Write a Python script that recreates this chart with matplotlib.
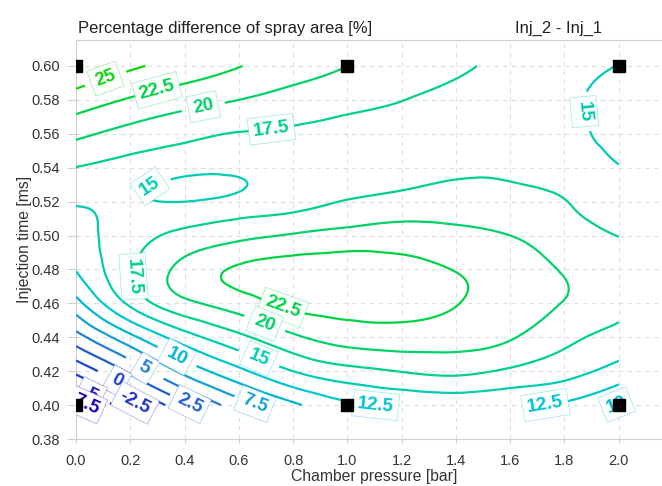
import numpy as np
import matplotlib
matplotlib.use("Agg")
import matplotlib.pyplot as plt
import matplotlib.tri as mtri
from matplotlib.colors import to_rgba

# grid: chamber pressure [bar] x injection time [ms]
pressure = [0.0, 0.2, 0.4, 0.6, 0.8, 1.0, 1.2, 1.4, 1.6, 1.8, 2.0]
inj_time = [0.40, 0.42, 0.44, 0.46, 0.48, 0.50, 0.515, 0.527, 0.54, 0.56, 0.58, 0.60]

# percentage difference of spray area (Inj_2 - Inj_1), one row per injection time
area_diff = [
    [-8.5, -3.4, 1.8, 6.3, 9.5, 12.0, 12.7, 13.0, 12.8, 12.1, 9.8],
    [-1.9, 3.06, 8.2, 11.9, 15.0, 16.7, 17.6, 18.06, 17.1, 15.9, 14.0],
    [4.0, 9.3, 13.9, 16.9, 19.55, 21.1, 21.4, 21.05, 20.2, 18.2, 16.7],
    [9.1, 15.5, 19.4, 21.3, 23.1, 23.4, 23.4, 22.6, 21.2, 19.9, 18.3],
    [12.6, 17.2, 20.8, 22.8, 23.5, 23.7, 23.4, 22.4, 21.3, 19.8, 18.6],
    [13.86, 16.4, 18.15, 19.3, 20.25, 20.9, 21.04, 20.6, 20.0, 18.6, 17.45],
    [14.8, 15.4, 15.8, 16.6, 17.3, 18.3, 19.1, 19.27, 18.8, 17.76, 16.58],
    [16.0, 15.2, 14.5, 14.9, 16.3, 17.0, 17.45, 18.1, 17.84, 17.2, 15.9],
    [17.45, 16.5, 15.7, 15.57, 16.3, 16.5, 16.7, 17.0, 17.1, 16.3, 15.1],
    [20.6, 19.14, 18.1, 17.4, 17.2, 16.7, 16.7, 16.7, 16.7, 15.6, 14.5],
    [23.9, 22.27, 21.0, 20.0, 19.0, 18.3, 17.55, 17.0, 16.6, 15.5, 14.2],
    [27.3, 25.4, 24.07, 22.6, 21.3, 20.0, 18.95, 17.9, 16.9, 15.96, 14.95],
]

levels = [-7.5, -5, -2.5, 0, 2.5, 5, 7.5, 10, 12.5, 15, 17.5, 20, 22.5, 25]
line_colors = ['#1800bc', '#2018c4', '#1e32c8', '#1e46cc', '#1e5ed0', '#1e80d4', '#149ed8',
               '#00b6d6', '#00c6d2', '#00ccb4', '#00d08e', '#00d26a', '#00d446', '#12d212']

# tested operating points
test_pressure = [0.0, 1.0, 2.0, 0.0, 1.0, 2.0]
test_time = [0.60, 0.60, 0.60, 0.40, 0.40, 0.40]

# label spots: (level, pressure, time)
label_spots = [
    (25, 0.11, 0.592), (22.5, 0.30, 0.585), (20, 0.47, 0.575), (17.5, 0.72, 0.563),
    (15, 0.27, 0.530), (15, 1.87, 0.573), (17.5, 0.23, 0.476), (22.5, 0.76, 0.457),
    (20, 0.69, 0.446), (15, 0.67, 0.426), (10, 0.37, 0.428), (5, 0.25, 0.421),
    (0, 0.15, 0.414), (-5, 0.06, 0.409), (-7.5, 0.03, 0.402), (-2.5, 0.22, 0.402),
    (2.5, 0.42, 0.401), (7.5, 0.66, 0.401), (12.5, 1.13, 0.401), (12.5, 1.70, 0.401),
    (10, 1.99, 0.401),
]

plt.rcParams['font.family'] = ['Liberation Sans', 'DejaVu Sans']

fig = plt.figure(figsize=(6.62, 4.86), dpi=100)
ax = fig.add_axes([76 / 662, 47 / 486, 597 / 662, 399 / 486])

P, T = np.meshgrid(pressure, inj_time)
Z = np.array(area_diff)
ny, nx = Z.shape
idx = np.arange(nx * ny).reshape(ny, nx)
a, b = idx[:-1, :-1].ravel(), idx[:-1, 1:].ravel()
c, d = idx[1:, 1:].ravel(), idx[1:, :-1].ravel()
triangles = np.concatenate([np.column_stack([a, b, c]), np.column_stack([a, c, d])])

# refine in scaled coordinates (cells roughly square), then plot in real units
tri = mtri.Triangulation(P.ravel(), T.ravel() * 10, triangles)
tri_fine, z_fine = mtri.UniformTriRefiner(tri).refine_field(Z.ravel(), subdiv=4)
tri_plot = mtri.Triangulation(tri_fine.x, tri_fine.y / 10, tri_fine.triangles)

cs = ax.tricontour(tri_plot, z_fine, levels=levels, colors=line_colors,
                   linewidths=1.6, zorder=3)

with plt.rc_context({'font.weight': 'bold'}):
    cs.clabel(levels, manual=[], inline=True, inline_spacing=8,
              fmt=lambda v: f'{v:g}', fontsize=13.5)
    # put each label on its own level near the given spot
    for lev, px, py in label_spots:
        cs.labelIndiceList = [levels.index(lev)]
        cs.add_label_near(px, py, inline=True, inline_spacing=8)
for txt in cs.labelTexts:
    col = txt.get_color()
    txt.set_bbox(dict(boxstyle='square,pad=0.25', fc='white', ec=to_rgba(col, 0.35), lw=0.6))
    txt.set_zorder(4)

ax.plot(test_pressure, test_time, 's', color='black', ms=8, zorder=5)

ax.set_xlim(0, 2.2)
ax.set_ylim(0.38, 0.6153)
ax.set_xticks(np.arange(0, 2.01, 0.2))
ax.set_yticks(np.arange(0.38, 0.601, 0.02))
ax.xaxis.set_major_formatter(plt.FormatStrFormatter('%.1f'))
ax.yaxis.set_major_formatter(plt.FormatStrFormatter('%.2f'))
ax.grid(True, ls=(0, (4, 4)), color='#dedede', lw=0.8)
ax.set_axisbelow(True)
for side in ['left', 'bottom', 'top']:
    ax.spines[side].set_color('#d0d0d0')
ax.spines['right'].set_visible(False)
ax.tick_params(axis='y', length=6.5, color='#d0d0d0', labelsize=10.5, labelcolor='#333333', pad=5)
ax.tick_params(axis='x', length=3, color='#d0d0d0', labelsize=10.5, labelcolor='#333333', pad=8)

ax.set_xlabel('Chamber pressure [bar]', fontsize=11.3, color='#333333')
ax.set_ylabel('Injection time [ms]', fontsize=11.3, color='#333333')
ax.xaxis.set_label_coords(0.5, -0.074)
ax.yaxis.set_label_coords(-0.073, 0.5)

fig.text(78 / 662, 1 - 33 / 486, 'Percentage difference of spray area [%]',
         fontsize=12, color='#222222', va='baseline')
fig.text(602 / 662, 1 - 33 / 486, 'Inj_2 - Inj_1', fontsize=12, color='#222222',
         ha='right', va='baseline')

fig.savefig('out.png', dpi=100)
